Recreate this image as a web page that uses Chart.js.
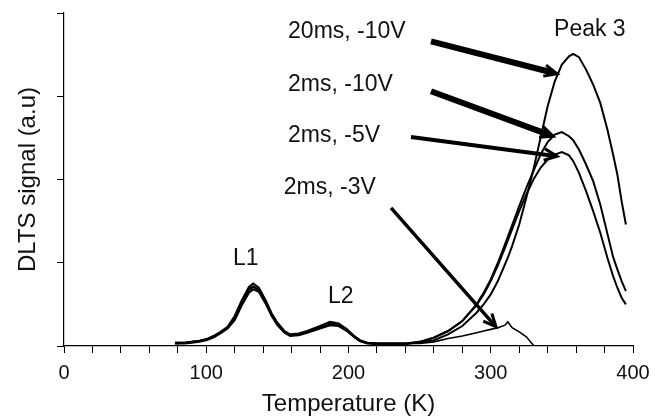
<!DOCTYPE html>
<html>
<head>
<meta charset="utf-8">
<script src="https://cdn.jsdelivr.net/npm/chart.js@4"></script>
<style>
  body { margin: 0; background: #fff; }
</style>
</head>
<body>
<canvas id="chart" width="662" height="420"></canvas>
<script>
// temperature points (K), shared by all four scans
const temps = [78, 85, 90, 95, 100, 105, 110, 115, 120, 125,
  130, 133, 137, 142, 146, 150, 155, 159, 165, 171,
  180, 187, 193, 199, 204, 208, 213, 220, 230, 240,
  250, 260, 270, 280, 290, 295, 300, 305, 310, 312,
  315, 320, 325, 330, 335, 340, 345, 350, 355, 358,
  362, 367, 372, 377, 382, 386, 389, 392, 395];

// DLTS signal (a.u)
const sig20ms10V = [0.04, 0.04, 0.05, 0.06, 0.08, 0.12, 0.17, 0.23, 0.36, 0.55,
  0.71, 0.75, 0.70, 0.54, 0.39, 0.28, 0.18, 0.14, 0.15, 0.18,
  0.24, 0.29, 0.27, 0.20, 0.12, 0.07, 0.04, 0.03, 0.03, 0.03,
  0.04, 0.07, 0.14, 0.24, 0.40, 0.50, 0.62, 0.78, 0.98, 1.06,
  1.20, 1.46, 1.78, 2.12, 2.50, 2.88, 3.18, 3.38, 3.48, 3.51,
  3.47, 3.32, 3.14, 2.92, 2.60, 2.30, 2.06, 1.74, 1.46];
const sig2ms10V = [0.03, 0.04, 0.05, 0.06, 0.08, 0.11, 0.16, 0.22, 0.33, 0.52,
  0.67, 0.71, 0.67, 0.51, 0.37, 0.26, 0.17, 0.13, 0.14, 0.17,
  0.22, 0.27, 0.25, 0.18, 0.11, 0.06, 0.04, 0.03, 0.03, 0.03,
  0.05, 0.10, 0.18, 0.30, 0.50, 0.64, 0.80, 1.00, 1.22, 1.31,
  1.45, 1.68, 1.90, 2.10, 2.30, 2.45, 2.54, 2.57, 2.52, 2.47,
  2.36, 2.18, 1.98, 1.70, 1.35, 1.07, 0.92, 0.78, 0.66];
const sig2ms5V = [0.03, 0.03, 0.04, 0.05, 0.07, 0.10, 0.15, 0.21, 0.31, 0.49,
  0.64, 0.68, 0.65, 0.50, 0.36, 0.25, 0.16, 0.12, 0.13, 0.16,
  0.21, 0.25, 0.24, 0.18, 0.11, 0.06, 0.03, 0.02, 0.02, 0.02,
  0.05, 0.10, 0.18, 0.30, 0.49, 0.62, 0.78, 0.97, 1.18, 1.27,
  1.40, 1.62, 1.82, 2.00, 2.14, 2.24, 2.30, 2.33, 2.29, 2.22,
  2.08, 1.86, 1.62, 1.36, 1.06, 0.84, 0.70, 0.58, 0.50];
const sig2ms3V = [0.04, 0.04, 0.05, 0.06, 0.08, 0.11, 0.16, 0.22, 0.34, 0.53,
  0.69, 0.72, 0.68, 0.52, 0.38, 0.27, 0.17, 0.13, 0.14, 0.17,
  0.23, 0.27, 0.26, 0.19, 0.12, 0.07, 0.04, 0.03, 0.03, 0.03,
  0.03, 0.05, 0.09, 0.12, 0.16, 0.18, 0.20, 0.22, 0.25, 0.29,
  0.22, 0.17, 0.11, 0.01, null, null, null, null, null, null,
  null, null, null, null, null, null, null, null, null];

// text labels in data units (left edge, middle)
const noteText = ['20ms, -10V', '2ms, -10V', '2ms, -5V', '2ms, -3V', 'Peak 3', 'L1', 'L2'];
const noteT = [157.5, 157.5, 157.5, 154.5, 344.5, 118.8, 185.6];
const noteV = [3.78, 3.14, 2.53, 1.90, 3.80, 1.05, 0.59];

// arrows in data units (tail -> head)
const arrowT0 = [258, 258, 243.9, 229.9];
const arrowV0 = [3.66, 3.06, 2.51, 1.66];
const arrowT1 = [346.6, 343.8, 346.6, 303.7];
const arrowV1 = [3.27, 2.52, 2.28, 0.23];

const xTickStep = 20;
const xLabelEvery = 100;

function pts(vals) {
  return temps.map((t, i) => ({ x: t, y: vals[i] }));
}

function drawArrow(ctx, x0, y0, x1, y1, w) {
  const a = Math.atan2(y1 - y0, x1 - x0);
  ctx.lineWidth = w;
  ctx.beginPath();
  ctx.moveTo(x0, y0);
  ctx.lineTo(x1 - 4 * Math.cos(a), y1 - 4 * Math.sin(a));
  ctx.stroke();
  // open head
  const len = 14, spread = 0.42;
  ctx.lineWidth = 3;
  ctx.beginPath();
  ctx.moveTo(x1 - len * Math.cos(a - spread), y1 - len * Math.sin(a - spread));
  ctx.lineTo(x1, y1);
  ctx.lineTo(x1 - len * Math.cos(a + spread), y1 - len * Math.sin(a + spread));
  ctx.stroke();
}

const notesPlugin = {
  id: 'notes',
  afterDatasetsDraw(chart) {
    const ctx = chart.ctx;
    const xs = chart.scales.x, ys = chart.scales.y;
    ctx.save();
    ctx.fillStyle = '#111';
    ctx.font = '23px "Liberation Sans", Arial, sans-serif';
    ctx.textAlign = 'left';
    ctx.textBaseline = 'middle';
    noteText.forEach((txt, i) => {
      ctx.fillText(txt, xs.getPixelForValue(noteT[i]), ys.getPixelForValue(noteV[i]));
    });
    ctx.strokeStyle = '#000';
    ctx.lineCap = 'butt';
    const widths = [6, 6, 4, 3.5];
    arrowT0.forEach((t, i) => {
      drawArrow(ctx,
        xs.getPixelForValue(t), ys.getPixelForValue(arrowV0[i]),
        xs.getPixelForValue(arrowT1[i]), ys.getPixelForValue(arrowV1[i]),
        widths[i]);
    });
    ctx.restore();
  }
};

const font = '"Liberation Sans", Arial, sans-serif';
const lineStyle = { borderColor: '#000', pointRadius: 0, tension: 0, fill: false, spanGaps: false };

const ctx = document.getElementById('chart').getContext('2d');
const myChart = new Chart(ctx, {
  type: 'line',
  data: {
    datasets: [
      { label: '20ms, -10V', data: pts(sig20ms10V), borderWidth: 2, ...lineStyle },
      { label: '2ms, -10V', data: pts(sig2ms10V), borderWidth: 2, ...lineStyle },
      { label: '2ms, -5V', data: pts(sig2ms5V), borderWidth: 2, ...lineStyle },
      { label: '2ms, -3V', data: pts(sig2ms3V), borderWidth: 1.6, ...lineStyle }
    ]
  },
  options: {
    responsive: false,
    animation: false,
    devicePixelRatio: 1,
    layout: { padding: { left: 0, right: 29, top: 13, bottom: 0 } },
    plugins: { legend: { display: false }, tooltip: { enabled: false } },
    scales: {
      x: {
        type: 'linear',
        min: 0,
        max: 400,
        afterFit: s => { s.height = 74; },
        border: { color: '#000', width: 1.2 },
        grid: { drawOnChartArea: false, color: '#000', tickLength: 7, lineWidth: 1 },
        ticks: {
          stepSize: xTickStep,
          autoSkip: false,
          maxRotation: 0,
          padding: 8,
          color: '#111',
          font: { family: font, size: 20 },
          callback: v => (v % xLabelEvery === 0 ? String(v) : '')
        },
        title: {
          display: true,
          text: 'Temperature (K)',
          color: '#111',
          font: { family: font, size: 24 },
          padding: { top: 0, bottom: 1 }
        }
      },
      y: {
        min: 0,
        max: 4,
        afterFit: s => { s.width = 64; },
        border: { color: '#000', width: 1.2 },
        grid: { drawOnChartArea: false, color: '#000', tickLength: 7, lineWidth: 1 },
        ticks: { stepSize: 1, display: false },
        title: {
          display: true,
          text: 'DLTS signal (a.u)',
          color: '#111',
          font: { family: font, size: 24 },
          padding: { top: 14, bottom: 0 }
        }
      }
    }
  },
  plugins: [notesPlugin]
});
</script>
</body>
</html>
